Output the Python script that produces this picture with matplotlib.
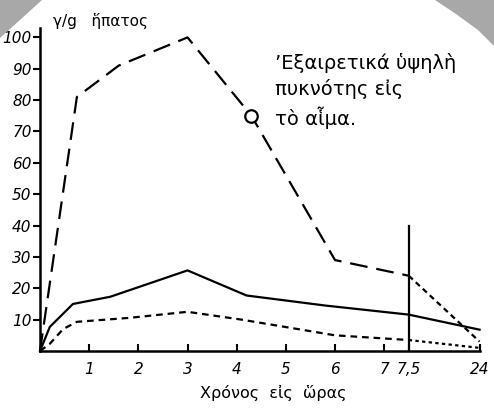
"""
Liver / blood concentration curve over time (scanned chart remake).
"""
import numpy as np
import matplotlib
matplotlib.use('Agg')
import matplotlib.pyplot as plt
from matplotlib.patches import Polygon

# Data (hours, gamma per gram)
upper_hours = [0, 0.75, 1.6, 3, 4.3, 6, 7.5]
upper_vals = [0, 81, 91, 100, 75, 29, 24]
upper_tail_hours = [7.5, 24]
upper_tail_vals = [24, 3]
marker_hour = [4.3]
marker_val = [75]

solid_hours = [0, 0.2, 0.67, 1.43, 3, 4.2, 5.8, 7.5, 24]
solid_vals = [0, 7.7, 15, 17.3, 25.7, 17.7, 14.5, 11.6, 6.8]

lower_hours = [0, 0.2, 0.47, 0.75, 1.84, 3, 4.1, 6, 7.5]
lower_vals = [0, 2.3, 7, 9.3, 10.6, 12.5, 10, 5, 3.5]
lower_tail_hours = [7.5, 24]
lower_tail_vals = [3.5, 1]

marker_line_hour = 7.5
marker_line_top = 40

x_ticks = [1, 2, 3, 4, 5, 6, 7, 7.5, 24]
x_tick_labels = ['1', '2', '3', '4', '5', '6', '7', '7,5', '24']
y_ticks = [10, 20, 30, 40, 50, 60, 70, 80, 90, 100]

# Compressed axis after 7.5 h
K = 1.44 / 16.5


def fwd(x):
    x = np.asarray(x, dtype=float)
    return np.where(x <= 7.5, x, 7.5 + (x - 7.5) * K)


def inv(y):
    y = np.asarray(y, dtype=float)
    return np.where(y <= 7.5, y, 7.5 + (y - 7.5) / K)


W, H = 494, 408
fig = plt.figure(figsize=(W / 100, H / 100), dpi=100)
fig.patch.set_facecolor('white')

# Grey scan corners
fig.patches.append(Polygon([[0, 1], [42 / W, 1], [0, 1 - 38 / H]],
                           closed=True, transform=fig.transFigure,
                           facecolor='#a8a8a8', edgecolor='none'))
fig.patches.append(Polygon([[435 / W, 1], [1, 1], [1, 1 - 46 / H],
                            [478 / W, 1 - 30 / H], [456 / W, 1 - 14 / H]],
                           closed=True, transform=fig.transFigure,
                           facecolor='#a8a8a8', edgecolor='none'))

ax = fig.add_axes([40 / W, 57 / H, 440 / W, 323 / H])
ax.set_xscale('function', functions=(fwd, inv))
ax.set_xlim(0, 24.1)
ax.set_ylim(0, 103)

lw = 1.6
ax.plot(upper_hours, upper_vals, color='black', lw=lw,
        linestyle=(0, (8, 4)), clip_on=False)
ax.plot(upper_tail_hours, upper_tail_vals, color='black', lw=lw,
        linestyle=(0, (2.5, 1.8)), clip_on=False)
ax.plot(marker_hour, marker_val, marker='o', ms=9, mfc='white',
        mec='black', mew=1.6, linestyle='none')

ax.plot(solid_hours, solid_vals, color='black', lw=lw, clip_on=False)

ax.plot(lower_hours, lower_vals, color='black', lw=lw,
        linestyle=(0, (3, 2.2)), clip_on=False)
ax.plot(lower_tail_hours, lower_tail_vals, color='black', lw=lw,
        linestyle=(0, (1.5, 1.5)), clip_on=False)

ax.plot([marker_line_hour, marker_line_hour], [0, marker_line_top],
        color='black', lw=lw)

# Axes styling
for side in ['top', 'right']:
    ax.spines[side].set_visible(False)
for side in ['left', 'bottom']:
    ax.spines[side].set_linewidth(1.8)

ax.set_xticks(x_ticks)
ax.set_xticklabels(x_tick_labels)
ax.set_yticks(y_ticks)
ax.xaxis.set_minor_locator(matplotlib.ticker.NullLocator())
ax.tick_params(axis='x', direction='in', length=5, width=1.5, pad=8)
ax.tick_params(axis='y', direction='out', length=5, width=1.5, pad=1)
for lab in ax.get_xticklabels() + ax.get_yticklabels():
    lab.set_fontstyle('italic')
    lab.set_fontsize(11)

fig.text(53 / W, 1 - 21 / H, 'γ/g   ἥπατος', fontsize=11,
         ha='left', va='center')
fig.text(273 / W, 1 - 393 / H, 'Χρόνος  εἰς  ὥρας', fontsize=11.5,
         ha='center', va='center')
fig.text(275 / W, 1 - 91 / H,
         '’Εξαιρετικά ὑψηλὴ\nπυκνότης εἰς\nτὸ αἷμα.',
         fontsize=14, ha='left', va='center', linespacing=1.42)

fig.savefig('out.png', dpi=100, facecolor='white')
